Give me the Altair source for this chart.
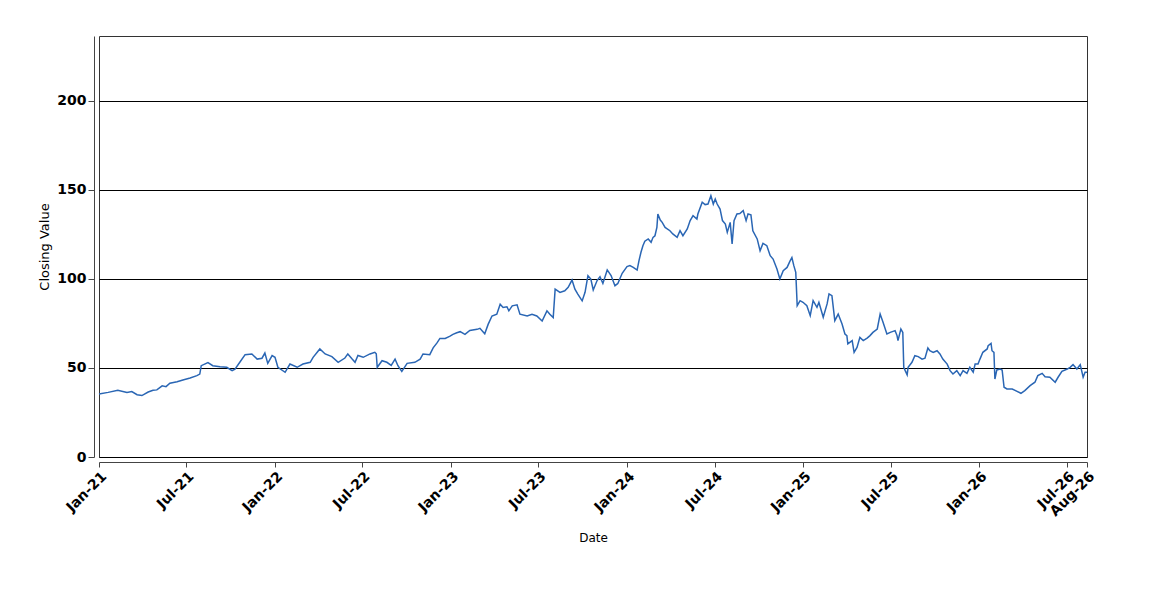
import altair as alt
import pandas as pd

# days since 2021-01-01 and closing values
day_offsets = [
    0, 19, 39, 58, 68, 79, 89, 102, 112, 120, 131, 139, 147, 162, 174, 189, 203, 209, 212,
    226, 236, 251, 265, 276, 282, 292, 303, 317, 328, 338, 344, 350, 359, 365, 371, 386,
    396, 411, 423, 438, 444, 458, 469, 483, 496, 510, 516, 525, 531, 537, 548, 562, 572,
    575, 577, 587, 597, 606, 614, 620, 628, 639, 655, 666, 672, 686, 693, 701, 707, 718,
    728, 734, 742, 749, 759, 769, 784, 790, 800, 807, 815, 825, 832, 838, 846, 850, 857,
    867, 873, 888, 898, 908, 919, 929, 935, 942, 946, 956, 966, 973, 981, 987, 993, 1002,
    1008, 1014, 1020, 1025, 1033, 1039, 1045, 1054, 1062, 1070, 1076, 1085, 1095, 1101,
    1108, 1116, 1120, 1124, 1128, 1132, 1139, 1145, 1149, 1153, 1157, 1159, 1164, 1168,
    1174, 1184, 1190, 1199, 1205, 1211, 1220, 1226, 1232, 1240, 1242, 1251, 1257, 1263,
    1269, 1274, 1278, 1282, 1288, 1293, 1299, 1303, 1309, 1313, 1317, 1323, 1329, 1336,
    1342, 1346, 1352, 1356, 1365, 1371, 1377, 1385, 1392, 1398, 1406, 1412, 1419, 1427,
    1433, 1437, 1441, 1445, 1448, 1454, 1460, 1468, 1475, 1481, 1489, 1493, 1502, 1510,
    1514, 1520, 1526, 1533, 1541, 1547, 1551, 1553, 1562, 1566, 1572, 1578, 1585, 1593,
    1599, 1605, 1614, 1620, 1626, 1634, 1641, 1651, 1655, 1657, 1663, 1667, 1669, 1672,
    1676, 1678, 1686, 1692, 1699, 1707, 1713, 1719, 1723, 1730, 1738, 1744, 1750, 1759,
    1765, 1771, 1779, 1786, 1792, 1800, 1806, 1813, 1817, 1823, 1827, 1833, 1842, 1844,
    1850, 1852, 1856, 1858, 1862, 1869, 1873, 1877, 1883, 1894, 1904, 1912, 1920, 1931,
    1941, 1947, 1956, 1962, 1972, 1983, 1989, 1997, 2008, 2014, 2020, 2028, 2035, 2041,
    2045, 2049,
]
closing_values = [
    35.4, 36.3, 37.5, 36.3, 36.8, 35.0, 34.5, 36.5, 37.5, 37.7, 40.0, 39.5, 41.4, 42.3, 43.3,
    44.4, 45.7, 46.6, 51.3, 53.0, 51.3, 50.7, 50.4, 48.5, 49.4, 53.2, 57.5, 57.9, 55.0, 55.5,
    58.4, 52.6, 57.0, 56.0, 50.4, 47.6, 52.2, 50.4, 52.2, 53.2, 56.0, 60.7, 57.9, 56.4, 53.2,
    55.6, 57.9, 55.0, 53.2, 57.0, 56.0, 57.9, 58.8, 58.0, 50.4, 54.1, 53.2, 51.5, 55.0, 51.3,
    48.1, 52.6, 53.2, 55.0, 57.9, 57.5, 61.3, 64.1, 66.6, 66.6, 67.9, 68.9, 69.8, 70.4, 68.9,
    71.1, 71.7, 72.3, 69.2, 74.5, 79.2, 80.2, 85.8, 84.0, 84.4, 82.1, 84.9, 85.5, 80.2, 79.2,
    80.2, 79.2, 76.4, 82.1, 80.2, 78.3, 94.3, 92.5, 93.4, 95.3, 99.4, 94.3, 91.5, 87.7, 92.5,
    101.9, 100.0, 93.8, 99.1, 101.3, 97.5, 105.1, 101.9, 96.2, 97.5, 103.2, 107.0, 107.5,
    106.5, 105.0, 110.5, 115.0, 118.7, 121.2, 122.5, 120.6, 123.4, 124.3, 129.0, 136.5,
    133.1, 131.8, 129.0, 127.1, 125.3, 123.4, 127.1, 124.3, 128.1, 132.8, 135.6, 133.7,
    136.5, 143.1, 141.8, 142.1, 146.8, 142.1, 144.9, 142.1, 139.3, 132.8, 130.9, 126.2,
    131.8, 119.7, 132.8, 136.5, 136.8, 138.4, 132.8, 136.5, 136.0, 127.1, 122.5, 115.9,
    120.0, 118.7, 113.1, 111.2, 105.6, 100.0, 104.7, 106.5, 110.0, 112.0, 107.5, 103.7,
    85.0, 87.8, 86.9, 85.0, 79.4, 87.8, 84.1, 86.9, 78.5, 86.0, 91.6, 90.6, 76.6, 80.3,
    74.7, 69.1, 68.2, 63.5, 65.4, 58.8, 61.6, 67.2, 65.4, 66.8, 68.2, 70.0, 71.9, 80.3,
    75.7, 69.1, 70.0, 71.0, 68.2, 65.4, 71.9, 70.0, 50.4, 48.5, 46.2, 50.4, 53.2, 56.9,
    56.4, 55.0, 55.5, 61.2, 59.7, 58.8, 59.7, 57.9, 55.0, 52.2, 48.5, 46.6, 48.5, 45.7,
    48.5, 47.0, 50.4, 47.6, 52.2, 52.2, 55.0, 58.8, 60.7, 62.5, 63.8, 59.7, 58.8, 43.8,
    48.9, 49.4, 48.9, 39.2, 38.2, 38.2, 36.9, 35.8, 37.3, 40.1, 42.0, 45.7, 47.0, 45.1,
    44.8, 42.0, 44.8, 48.1, 49.4, 50.4, 51.9, 49.4, 51.9, 44.8, 47.6, 47.6,
]

# tick positions (year, month, day) and y ticks
tick_dates = [
    (2021, 1, 1), (2021, 7, 1), (2022, 1, 1), (2022, 7, 1), (2023, 1, 1), (2023, 7, 1),
    (2024, 1, 1), (2024, 7, 1), (2025, 1, 1), (2025, 7, 1), (2026, 1, 1), (2026, 7, 1),
    (2026, 8, 12),
]
y_ticks = [0, 50, 100, 150, 200]

start = pd.Timestamp("2021-01-01")
dates = [(start + pd.Timedelta(days=d)).strftime("%Y-%m-%d") for d in day_offsets]
df = pd.DataFrame({"Date": dates, "Close": closing_values})

def dt(t):
    return alt.DateTime(year=t[0], month=t[1], date=t[2], utc=True)

x_axis = alt.Axis(
    title="Date",
    values=[dt(t) for t in tick_dates],
    format="%b-%y",
    labelAngle=-45,
    labelFlush=False,
    labelOverlap=False,
    labelFont="DejaVu Sans",
    labelFontSize=14,
    labelFontWeight="bold",
    labelColor="black",
    labelPadding=2,
    offset=5,
    tickSize=5,
    tickColor="#444444",
    domainColor="#444444",
    grid=False,
    titleFont="DejaVu Sans",
    titleFontSize=12,
    titleFontWeight="normal",
    titleColor="black",
    titlePadding=14,
)

y_axis = alt.Axis(
    title="Closing Value",
    values=y_ticks,
    labelFont="DejaVu Sans",
    labelFontSize=14,
    labelFontWeight="bold",
    labelColor="black",
    labelPadding=2,
    offset=5,
    tickSize=6,
    tickColor="#444444",
    domainColor="#444444",
    grid=True,
    gridColor="black",
    gridOpacity=1,
    gridWidth=1,
    titleFont="DejaVu Sans",
    titleFontSize=13,
    titleFontWeight="normal",
    titleColor="black",
    titlePadding=5,
)

chart = (
    alt.Chart(df)
    .mark_line(color="#2a66b4", strokeWidth=1.5)
    .encode(
        x=alt.X(
            "Date:T",
            axis=x_axis,
            scale=alt.Scale(type="utc", domain=[dt(tick_dates[0]), dt(tick_dates[-1])]),
        ),
        y=alt.Y("Close:Q", axis=y_axis, scale=alt.Scale(domain=[0, 236.5], nice=False)),
    )
    .properties(
        width=988,
        height=421,
        autosize=alt.AutoSizeParams(type="none"),
        padding={"left": 91, "top": 28, "right": 40, "bottom": 100},
        background="white",
    )
    .configure_view(stroke="#333333", strokeWidth=1)
)

chart.save("out.html", embed_options={"renderer": "svg", "actions": False})
